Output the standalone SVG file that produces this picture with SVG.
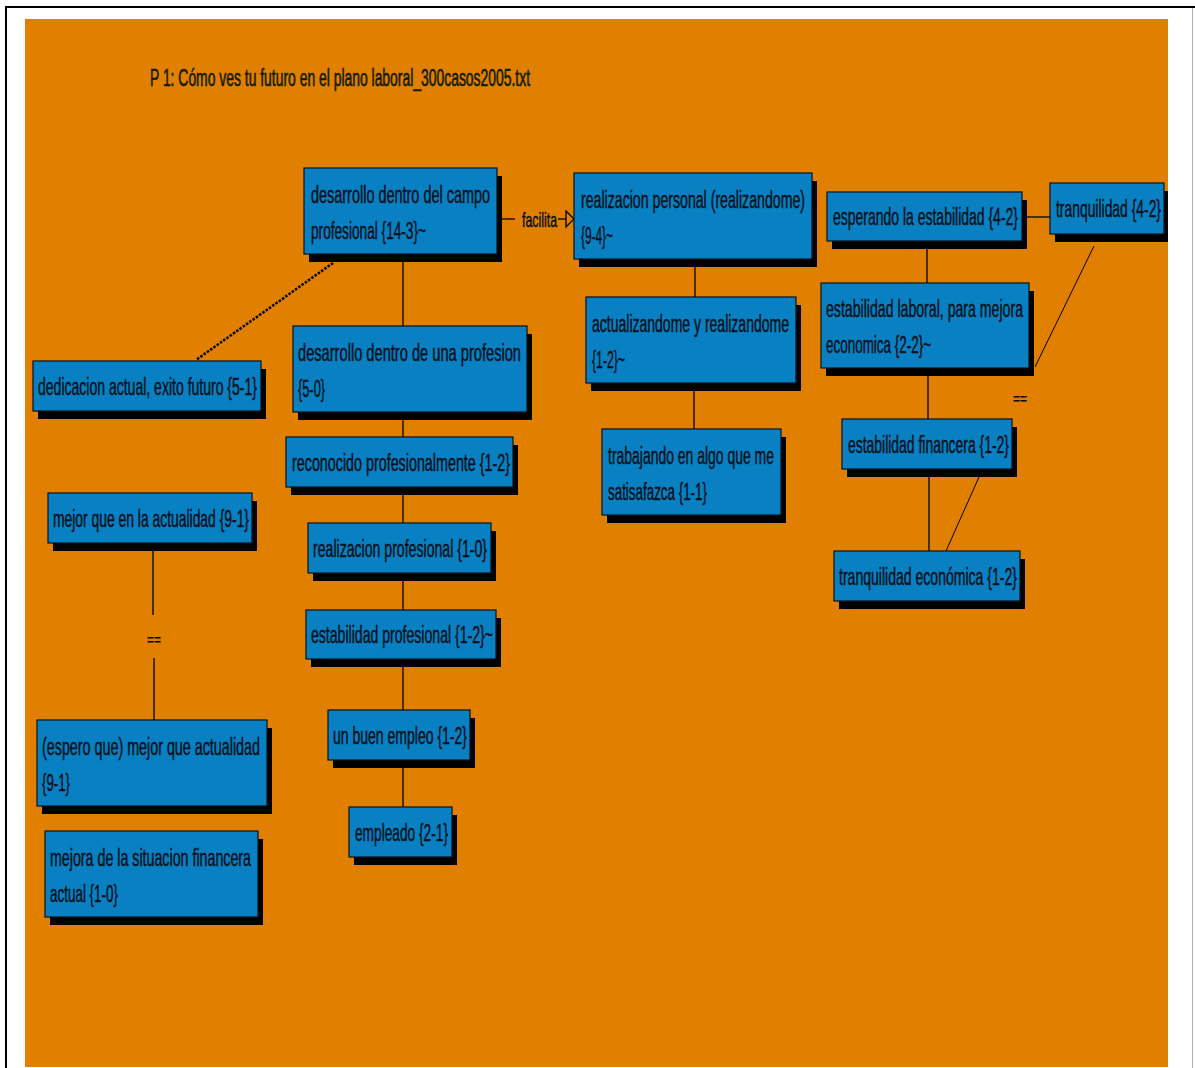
<svg xmlns="http://www.w3.org/2000/svg" width="1195" height="1068" viewBox="0 0 1195 1068">
  <style>
    .bg { fill: #e07f00; }
    .shadow { fill: #000; }
    .box { fill: #0880c2; stroke: #05121e; stroke-width: 1.2; }
    .lbl { font-family: "Liberation Sans", Arial, sans-serif; font-size: 23px; fill: #04101a; stroke: #04101a; stroke-width: 0.45; }
    .title { font-family: "Liberation Sans", Arial, sans-serif; font-size: 23px; fill: #101c00; stroke: #101c00; stroke-width: 0.6; }
    .link { stroke: #000; stroke-width: 1.3; fill: none; }
    .thin { stroke: #000; stroke-width: 1; fill: none; }
    .dotted { stroke: #000; stroke-width: 2.5; stroke-dasharray: 2.5 1.5; fill: none; }
    .eq { font-family: "Liberation Sans", Arial, sans-serif; font-size: 15px; font-weight: bold; fill: #000; }
  </style>

  <!-- page frame -->
  <rect x="0" y="0" width="1195" height="1068" fill="#fff"/>
  <line x1="6" y1="7" x2="1195" y2="7" stroke="#000" stroke-width="2"/>
  <line x1="6" y1="6" x2="6" y2="1068" stroke="#000" stroke-width="2"/>
  <line x1="1192.5" y1="8" x2="1192.5" y2="1068" stroke="#b0b0b0" stroke-width="1"/>
  <rect class="bg" x="25" y="19" width="1143" height="1048"/>

  <text class="title" x="150" y="86" textLength="380" lengthAdjust="spacingAndGlyphs">P 1: Cómo ves tu futuro en el plano laboral_300casos2005.txt</text>

  <!-- links -->
  <g id="connectors">
    <line class="link" x1="497" y1="219" x2="515" y2="219"/>
    <text class="lbl" x="522" y="227" textLength="35" lengthAdjust="spacingAndGlyphs" style="font-size:21px">facilita</text>
    <line class="link" x1="558" y1="219" x2="566" y2="219"/>
    <polygon points="566,211 574,219 566,227" fill="#e07f00" stroke="#000" stroke-width="1.3"/>

    <line class="dotted" x1="333" y1="263" x2="196" y2="360"/>

    <line class="link" x1="403" y1="254" x2="403" y2="326"/>
    <line class="link" x1="403" y1="412" x2="403" y2="437"/>
    <line class="link" x1="403" y1="487" x2="403" y2="523"/>
    <line class="link" x1="403" y1="573" x2="403" y2="610"/>
    <line class="link" x1="403" y1="659" x2="403" y2="710"/>
    <line class="link" x1="403" y1="760" x2="403" y2="807"/>

    <line class="link" x1="695" y1="259" x2="695" y2="297"/>
    <line class="link" x1="694" y1="383" x2="694" y2="429"/>

    <line class="link" x1="1022" y1="217" x2="1050" y2="217"/>
    <line class="link" x1="927" y1="241" x2="927" y2="283"/>
    <line class="link" x1="928" y1="368" x2="928" y2="419"/>
    <line class="link" x1="929" y1="469" x2="929" y2="551"/>

    <line class="thin" x1="1094" y1="246" x2="1035" y2="367"/>
    <text class="eq" x="1013" y="404" textLength="14" lengthAdjust="spacingAndGlyphs">==</text>
    <line class="thin" x1="979" y1="477" x2="946" y2="551"/>

    <line class="link" x1="153" y1="551" x2="153" y2="615"/>
    <text class="eq" x="147" y="645" textLength="14" lengthAdjust="spacingAndGlyphs">==</text>
    <line class="link" x1="154" y1="658" x2="154" y2="720"/>
  </g>

  <!-- code nodes -->
  <g id="n-desarrollo-campo">
    <rect class="shadow" x="309" y="176" width="193" height="86"/>
    <rect class="box" x="304" y="168" width="193" height="86"/>
    <text class="lbl" x="311" y="202.5" textLength="179" lengthAdjust="spacingAndGlyphs">desarrollo dentro del campo</text>
    <text class="lbl" x="311" y="238.5" textLength="115" lengthAdjust="spacingAndGlyphs">profesional {14-3}~</text>
  </g>

  <g id="n-realizacion-personal">
    <rect class="shadow" x="579" y="181" width="238" height="86"/>
    <rect class="box" x="574" y="173" width="238" height="86"/>
    <text class="lbl" x="581" y="207.5" textLength="224" lengthAdjust="spacingAndGlyphs">realizacion personal (realizandome)</text>
    <text class="lbl" x="581" y="243.5" textLength="32" lengthAdjust="spacingAndGlyphs">{9-4}~</text>
  </g>

  <g id="n-esperando-estabilidad">
    <rect class="shadow" x="832" y="200" width="195" height="49"/>
    <rect class="box" x="827" y="192" width="195" height="49"/>
    <text class="lbl" x="833" y="225" textLength="185" lengthAdjust="spacingAndGlyphs">esperando la estabilidad {4-2}</text>
  </g>

  <g id="n-tranquilidad">
    <rect class="shadow" x="1055" y="191" width="113" height="51"/>
    <rect class="box" x="1050" y="183" width="114" height="51"/>
    <text class="lbl" x="1056" y="217" textLength="105" lengthAdjust="spacingAndGlyphs">tranquilidad {4-2}</text>
  </g>

  <g id="n-dedicacion">
    <rect class="shadow" x="38" y="369" width="228" height="50"/>
    <rect class="box" x="33" y="361" width="228" height="50"/>
    <text class="lbl" x="38" y="394.5" textLength="219" lengthAdjust="spacingAndGlyphs">dedicacion actual, exito futuro {5-1}</text>
  </g>

  <g id="n-desarrollo-profesion">
    <rect class="shadow" x="298" y="334" width="234" height="86"/>
    <rect class="box" x="293" y="326" width="234" height="86"/>
    <text class="lbl" x="298" y="360.5" textLength="223" lengthAdjust="spacingAndGlyphs">desarrollo dentro de una profesion</text>
    <text class="lbl" x="298" y="396.5" textLength="27" lengthAdjust="spacingAndGlyphs">{5-0}</text>
  </g>

  <g id="n-reconocido">
    <rect class="shadow" x="291" y="445" width="227" height="50"/>
    <rect class="box" x="286" y="437" width="227" height="50"/>
    <text class="lbl" x="292" y="470.5" textLength="218" lengthAdjust="spacingAndGlyphs">reconocido profesionalmente {1-2}</text>
  </g>

  <g id="n-realizacion-profesional">
    <rect class="shadow" x="313" y="531" width="183" height="50"/>
    <rect class="box" x="308" y="523" width="183" height="50"/>
    <text class="lbl" x="313" y="556.5" textLength="174" lengthAdjust="spacingAndGlyphs">realizacion profesional {1-0}</text>
  </g>

  <g id="n-estabilidad-profesional">
    <rect class="shadow" x="311" y="618" width="190" height="49"/>
    <rect class="box" x="306" y="610" width="190" height="49"/>
    <text class="lbl" x="311" y="643" textLength="182" lengthAdjust="spacingAndGlyphs">estabilidad profesional {1-2}~</text>
  </g>

  <g id="n-buen-empleo">
    <rect class="shadow" x="333" y="718" width="142" height="50"/>
    <rect class="box" x="328" y="710" width="142" height="50"/>
    <text class="lbl" x="333" y="743.5" textLength="134" lengthAdjust="spacingAndGlyphs">un buen empleo {1-2}</text>
  </g>

  <g id="n-empleado">
    <rect class="shadow" x="354" y="815" width="103" height="50"/>
    <rect class="box" x="349" y="807" width="103" height="50"/>
    <text class="lbl" x="355" y="840.5" textLength="93" lengthAdjust="spacingAndGlyphs">empleado {2-1}</text>
  </g>

  <g id="n-actualizandome">
    <rect class="shadow" x="591" y="305" width="210" height="86"/>
    <rect class="box" x="586" y="297" width="210" height="86"/>
    <text class="lbl" x="592" y="331.5" textLength="197" lengthAdjust="spacingAndGlyphs">actualizandome y realizandome</text>
    <text class="lbl" x="592" y="367.5" textLength="33" lengthAdjust="spacingAndGlyphs">{1-2}~</text>
  </g>

  <g id="n-trabajando">
    <rect class="shadow" x="607" y="437" width="179" height="86"/>
    <rect class="box" x="602" y="429" width="179" height="86"/>
    <text class="lbl" x="608" y="463.5" textLength="166" lengthAdjust="spacingAndGlyphs">trabajando en algo que me</text>
    <text class="lbl" x="608" y="499.5" textLength="99" lengthAdjust="spacingAndGlyphs">satisafazca {1-1}</text>
  </g>

  <g id="n-estabilidad-laboral">
    <rect class="shadow" x="826" y="291" width="208" height="85"/>
    <rect class="box" x="821" y="283" width="208" height="85"/>
    <text class="lbl" x="826" y="317" textLength="197" lengthAdjust="spacingAndGlyphs">estabilidad laboral, para mejora</text>
    <text class="lbl" x="826" y="353" textLength="105" lengthAdjust="spacingAndGlyphs">economica {2-2}~</text>
  </g>

  <g id="n-estabilidad-financera">
    <rect class="shadow" x="847" y="427" width="170" height="50"/>
    <rect class="box" x="842" y="419" width="170" height="50"/>
    <text class="lbl" x="848" y="452.5" textLength="161" lengthAdjust="spacingAndGlyphs">estabilidad financera {1-2}</text>
  </g>

  <g id="n-tranquilidad-economica">
    <rect class="shadow" x="839" y="559" width="186" height="50"/>
    <rect class="box" x="834" y="551" width="186" height="50"/>
    <text class="lbl" x="839" y="584.5" textLength="178" lengthAdjust="spacingAndGlyphs">tranquilidad económica {1-2}</text>
  </g>

  <g id="n-mejor-actualidad">
    <rect class="shadow" x="53" y="501" width="204" height="50"/>
    <rect class="box" x="48" y="493" width="204" height="50"/>
    <text class="lbl" x="53" y="526.5" textLength="196" lengthAdjust="spacingAndGlyphs">mejor que en la actualidad {9-1}</text>
  </g>

  <g id="n-espero-mejor">
    <rect class="shadow" x="42" y="728" width="230" height="86"/>
    <rect class="box" x="37" y="720" width="230" height="86"/>
    <text class="lbl" x="42" y="754.5" textLength="218" lengthAdjust="spacingAndGlyphs">(espero que) mejor que actualidad</text>
    <text class="lbl" x="42" y="790.5" textLength="28" lengthAdjust="spacingAndGlyphs">{9-1}</text>
  </g>

  <g id="n-mejora-financiera">
    <rect class="shadow" x="50" y="839" width="213" height="86"/>
    <rect class="box" x="45" y="831" width="213" height="86"/>
    <text class="lbl" x="50" y="865.5" textLength="201" lengthAdjust="spacingAndGlyphs">mejora de la situacion financera</text>
    <text class="lbl" x="50" y="901.5" textLength="68" lengthAdjust="spacingAndGlyphs">actual {1-0}</text>
  </g>
</svg>
